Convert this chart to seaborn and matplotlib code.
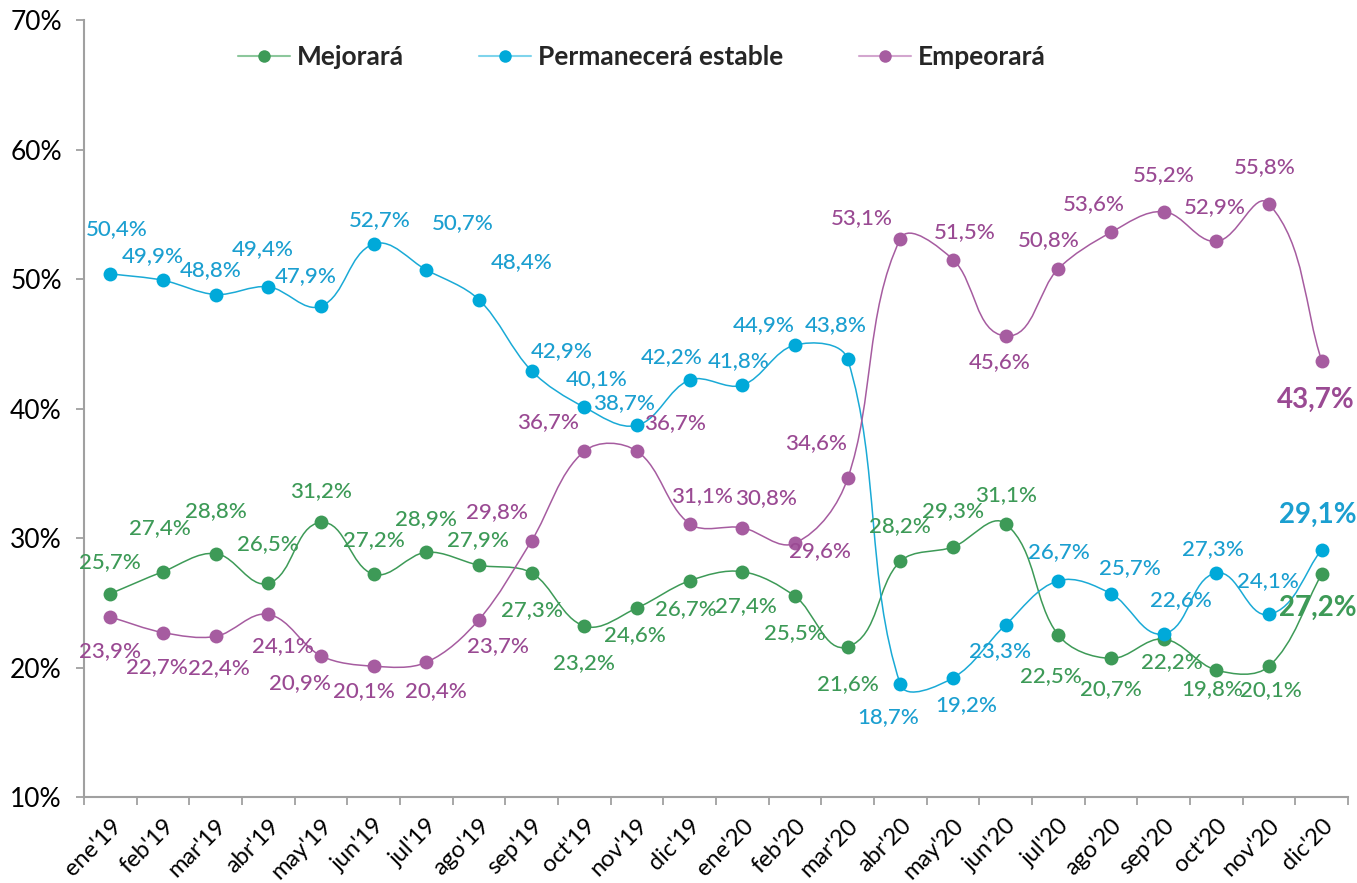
import numpy as np
import pandas as pd
import matplotlib
matplotlib.use("Agg")
import matplotlib.pyplot as plt
from matplotlib.path import Path
from matplotlib.patches import PathPatch
from matplotlib.lines import Line2D
import seaborn as sns

# ---------------- data ----------------
months = ["ene'19", "feb'19", "mar'19", "abr'19", "may'19", "jun'19", "jul'19", "ago'19",
          "sep'19", "oct'19", "nov'19", "dic'19", "ene'20", "feb'20", "mar'20", "abr'20",
          "may'20", "jun'20", "jul'20", "ago'20", "sep'20", "oct'20", "nov'20", "dic'20"]
mejorara = [25.7, 27.4, 28.8, 26.5, 31.2, 27.2, 28.9, 27.9, 27.3, 23.2, 24.6, 26.7,
            27.4, 25.5, 21.6, 28.2, 29.3, 31.1, 22.5, 20.7, 22.2, 19.8, 20.1, 27.2]
estable = [50.4, 49.9, 48.8, 49.4, 47.9, 52.7, 50.7, 48.4, 42.9, 40.1, 38.7, 42.2,
           41.8, 44.9, 43.8, 18.7, 19.2, 23.3, 26.7, 25.7, 22.6, 27.3, 24.1, 29.1]
empeorara = [23.9, 22.7, 22.4, 24.1, 20.9, 20.1, 20.4, 23.7, 29.8, 36.7, 36.7, 31.1,
             30.8, 29.6, 34.6, 53.1, 51.5, 45.6, 50.8, 53.6, 55.2, 52.9, 55.8, 43.7]
series_names = ["Mejorará", "Permanecerá estable", "Empeorará"]
y_ticks = [10, 20, 30, 40, 50, 60, 70]

# ---------------- styles ----------------
marker_colors = ["#3d9a57", "#00a9d9", "#a65ca0"]
line_colors = ["#3d9a57", "#1aaad6", "#a65ca0"]
legend_line_colors = ["#8cc79c", "#7fd4ec", "#d3a6cf"]
label_colors = ["#3d9a57", "#1b9fd0", "#9a4a93"]

# label offsets in pixels (dx, dy), dy positive = up
off_mej = [(0, 32), (-3, 44), (0, 42), (0, 39), (0, 31), (0, 34), (0, 33), (-1, 25),
           (0, -37), (0, -37), (-2, -27), (-4, -28), (4, -34), (0, -37), (0, -37), (0, 35),
           (0, 36), (0, 29), (-7, -41), (0, -31), (8, -23), (-4, -19), (2, -24), (-4, -34)]
off_est = [(6, 45), (-10, 24), (-5, 24), (-6, 38), (-15, 30), (6, 24), (36, 47), (43, 38),
           (30, 20), (12, 28), (-13, 22), (-18, 23), (-4, 24), (-31, 20), (-12, 34), (-12, -33),
           (13, -27), (-6, -26), (1, 29), (19, 26), (17, 34), (-3, 24), (-1, 33), (-4, 35)]
off_emp = [(0, -34), (-6, -35), (3, -32), (15, -32), (-21, -27), (-10, -25), (10, -29), (19, -26),
           (-35, 29), (-36, 29), (38, 28), (12, 28), (24, 30), (25, -8), (-32, 35), (-38, 21),
           (12, 27), (-6, -26), (-10, 29), (-17, 28), (0, 37), (-1, 34), (-4, 37), (-6, -39)]

sns.set_theme(style="white")
plt.rcParams['font.family'] = ['Lato', 'DejaVu Sans']

fig = plt.figure(figsize=(13.57, 8.83), dpi=100)
ax = fig.add_axes([84 / 1357, 1 - 797 / 883, (1348 - 84) / 1357, (797 - 20) / 883])

x = np.arange(len(months))
ax.set_xlim(-0.5, len(months) - 0.5)
ax.set_ylim(10, 70)


def smooth_path(xs, ys, k=1 / 3):
    """Excel-like smoothed line, computed in screen space, returned in data space."""
    pts = ax.transData.transform(np.column_stack([xs, ys]).astype(float))
    n = len(pts)
    tans = []
    for i in range(n):
        a = pts[max(i - 1, 0)]
        b = pts[min(i + 1, n - 1)]
        d = b - a
        tans.append(d / np.hypot(*d))
    verts = [pts[0]]
    codes = [Path.MOVETO]
    for i in range(n - 1):
        p1, p2 = pts[i], pts[i + 1]
        L = np.hypot(*(p2 - p1)) * k
        verts += [p1 + tans[i] * L, p2 - tans[i + 1] * L, p2]
        codes += [Path.CURVE4] * 3
    data_verts = ax.transData.inverted().transform(np.array(verts))
    return Path(data_verts, codes)


all_series = [mejorara, estable, empeorara]
all_offsets = [off_mej, off_est, off_emp]

for k, (vals, name) in enumerate(zip(all_series, series_names)):
    patch = PathPatch(smooth_path(x, vals), facecolor="none", edgecolor=line_colors[k],
                      lw=1.1, zorder=2)
    ax.add_patch(patch)
    df = pd.DataFrame({"x": x, "y": vals})
    sns.scatterplot(data=df, x="x", y="y", ax=ax, color=marker_colors[k], s=100,
                    linewidth=0, zorder=3, legend=False)
    for i, v in enumerate(vals):
        dx, dy = all_offsets[k][i]
        last = i == len(vals) - 1
        ax.annotate(f"{v:.1f}%".replace(".", ","), (x[i], v), xytext=(dx, dy),
                    textcoords="offset pixels", ha="center", va="center",
                    color=label_colors[k], fontsize=20 if last else 16,
                    fontweight="bold" if last else "medium", zorder=4)

ax.set_xlim(-0.5, len(months) - 0.5)
ax.set_ylim(10, 70)
ax.set_yticks(y_ticks)
ax.set_yticklabels([f"{t}%" for t in y_ticks], fontsize=19, color="black")
ax.set_xticks(x)
ax.set_xticklabels(months, rotation=45, ha="right", rotation_mode="anchor",
                   fontsize=17, color="black")
ax.set_xticks(np.arange(-0.5, len(months), 1), minor=True)
ax.tick_params(axis="x", which="major", length=0, pad=13)
ax.tick_params(axis="x", which="minor", length=6, width=1.3, color="#a0a0a0", direction="out")
ax.tick_params(axis="y", which="major", length=6, width=1.3, color="#a0a0a0", direction="out", pad=10)
ax.tick_params(bottom=True, left=True, which="both")
for s in ["top", "right"]:
    ax.spines[s].set_visible(False)
for s in ["left", "bottom"]:
    ax.spines[s].set_color("#a0a0a0")
    ax.spines[s].set_linewidth(1.5)
ax.set_xlabel("")
ax.set_ylabel("")
ax.grid(False)

handles = [Line2D([0], [0], color=legend_line_colors[k], lw=1.5, marker="o",
                  markersize=9, markerfacecolor=marker_colors[k], markeredgewidth=0)
           for k in range(3)]
leg = ax.legend(handles, series_names, loc="center left", bbox_to_anchor=(214 / 1357, 1 - 57 / 883),
                bbox_transform=fig.transFigure, ncol=3, frameon=False, handlelength=1.97,
                handletextpad=0.27, columnspacing=2.85, borderpad=0.4,
                prop={"size": 19, "weight": "bold"})

fig.savefig("out.png", dpi=100)
